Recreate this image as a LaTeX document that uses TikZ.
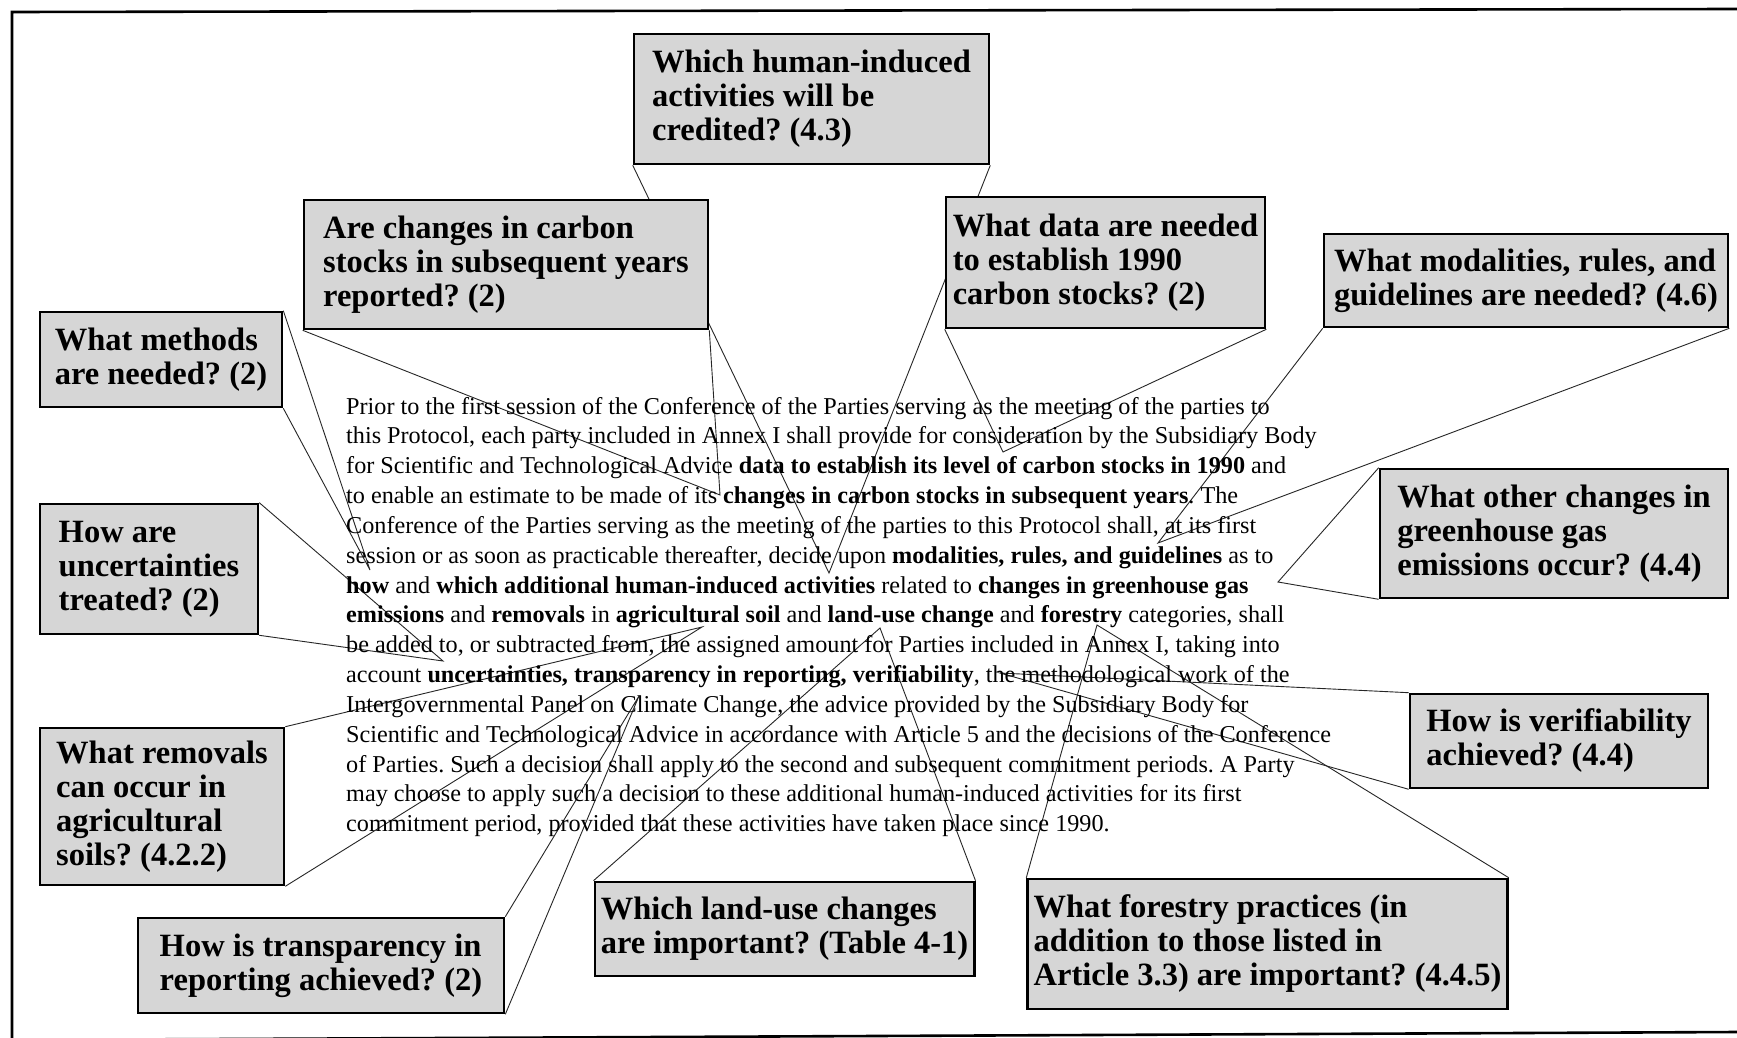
\documentclass[tikz,border=0pt]{standalone}
\usepackage{fontspec}
\setmainfont{Liberation Serif}
\usetikzlibrary{backgrounds}
\pgfdeclarelayer{bottom}
\pgfsetlayers{bottom,background,main}
\frenchspacing
\begin{document}
\begin{tikzpicture}[x=1pt,y=-1pt,
  qbox/.style={draw=black, line width=2.6pt, fill=black!16, align=left,
    anchor=center, inner xsep=6pt, inner ysep=0pt,
    font=\fontsize{32.5}{34}\selectfont\bfseries},
  para/.style={anchor=base west, inner sep=0pt, font=\fontsize{24.2}{28}\selectfont},
  lead/.style={draw=black!85, line width=0.9pt, line join=miter},
  frame/.style={draw=black, line width=2.6pt},
]
\useasboundingbox (0,0) rectangle (1737,1038);
\begin{pgfonlayer}{bottom}
\fill[white] (0,0) rectangle (1737,1038);
\end{pgfonlayer}

% outer frame (open on the right)
\coordinate (f1) at (1737,9);
\coordinate (f2) at (12,12);
\coordinate (f3) at (12,1040);
\coordinate (f4) at (1737,1032);
\draw[frame] (f1) -- (f2) -- (f3);
\draw[frame] (f3) -- (f4);

% the quoted paragraph, one node per printed line
\node[para] (t1)  at (346,414.0) {Prior to the first session of the Conference of the Parties serving as the meeting of the parties to};
\node[para] (t2)  at (346,443.8) {this Protocol, each party included in Annex I shall provide for consideration by the Subsidiary Body};
\node[para] (t3)  at (346,473.7) {for Scientific and Technological Advice \textbf{data to establish its level of carbon stocks in 1990} and};
\node[para] (t4)  at (346,503.5) {to enable an estimate to be made of its \textbf{changes in carbon stocks in subsequent years}. The};
\node[para] (t5)  at (346,533.3) {Conference of the Parties serving as the meeting of the parties to this Protocol shall, at its first};
\node[para] (t6)  at (346,563.2) {session or as soon as practicable thereafter, decide upon \textbf{modalities, rules, and guidelines} as to};
\node[para] (t7)  at (346,593.0) {\textbf{how} and \textbf{which additional human-induced activities} related to \textbf{changes in greenhouse gas}};
\node[para] (t8)  at (346,622.8) {\textbf{emissions} and \textbf{removals} in \textbf{agricultural soil} and \textbf{land-use change} and \textbf{forestry} categories, shall};
\node[para] (t9)  at (346,652.6) {be added to, or subtracted from, the assigned amount for Parties included in Annex I, taking into};
\node[para] (t10) at (346,682.5) {account \textbf{uncertainties, transparency in reporting, verifiability}, the methodological work of the};
\node[para] (t11) at (346,712.3) {Intergovernmental Panel on Climate Change, the advice provided by the Subsidiary Body for};
\node[para] (t12) at (346,742.1) {Scientific and Technological Advice in accordance with Article 5 and the decisions of the Conference};
\node[para] (t13) at (346,772.0) {of Parties. Such a decision shall apply to the second and subsequent commitment periods. A Party};
\node[para] (t14) at (346,801.8) {may choose to apply such a decision to these additional human-induced activities for its first};
\node[para] (t15) at (346,831.6) {commitment period, provided that these activities have taken place since 1990.};

% points in the paragraph that the callouts point to
\coordinate (p1)  at (829,573);
\coordinate (p2)  at (720,495);
\coordinate (p3)  at (1003,452);
\coordinate (p4)  at (1158,543);
\coordinate (p5)  at (370,570);
\coordinate (p6)  at (443,661);
\coordinate (p7)  at (1278,582);
\coordinate (p8)  at (702,627);
\coordinate (p9)  at (1000,673);
\coordinate (p10) at (639,696);
\coordinate (p11) at (880,628);
\coordinate (p12) at (1097,625);

% question boxes
\node[qbox, minimum width=355pt, minimum height=130pt] (b1)  at (811.5,99)   {Which human-induced\\activities will be\\credited? (4.3)};
\node[qbox, minimum width=404pt, minimum height=129pt] (b2)  at (506,264.5)  {Are changes in carbon\\stocks in subsequent years\\reported? (2)};
\node[qbox, minimum width=319pt, minimum height=131pt] (b3)  at (1105.5,262.5) {What data are needed\\to establish 1990\\carbon stocks? (2)};
\node[qbox, minimum width=404pt, minimum height=93pt]  (b4)  at (1526,280.5) {What modalities, rules, and\\guidelines are needed? (4.6)};
\node[qbox, minimum width=242pt, minimum height=95pt]  (b5)  at (161,359.5)  {What methods\\are needed? (2)};
\node[qbox, minimum width=218pt, minimum height=130pt] (b6)  at (149,569)    {How are\\uncertainties\\treated? (2)};
\node[qbox, minimum width=348pt, minimum height=129pt] (b7)  at (1554,533.5) {What other changes in\\greenhouse gas\\emissions occur? (4.4)};
\node[qbox, minimum width=244pt, minimum height=157pt] (b8)  at (162,806.5)  {What removals\\can occur in\\agricultural\\soils? (4.2.2)};
\node[qbox, minimum width=298pt, minimum height=94pt]  (b9)  at (1559,741)   {How is verifiability\\achieved? (4.4)};
\node[qbox, minimum width=366pt, minimum height=95pt]  (b10) at (321,965.5)  {How is transparency in\\reporting achieved? (2)};
\node[qbox, minimum width=377pt, minimum height=94pt]  (b11) at (784.5,929)  {Which land-use changes\\are important? (Table 4-1)};
\node[qbox, minimum width=479pt, minimum height=130pt] (b12) at (1267.5,944) {What forestry practices (in\\addition to those listed in\\Article 3.3) are important? (4.4.5)};

% callout wedges, drawn behind the boxes
\begin{pgfonlayer}{background}
\draw[lead] (b1.south west)  -- (p1)  -- (b1.south east);
\draw[lead] (b2.south west)  -- (p2)  -- (b2.south east);
\draw[lead] (b3.south west)  -- (p3)  -- (b3.south east);
\draw[lead] (b4.south west)  -- (p4)  -- (b4.south east);
\draw[lead] (b5.north east)  -- (p5)  -- (b5.south east);
\draw[lead] (b6.north east)  -- (p6)  -- (b6.south east);
\draw[lead] (b7.north west)  -- (p7)  -- (b7.south west);
\draw[lead] (b8.north east)  -- (p8)  -- (b8.south east);
\draw[lead] (b9.north west)  -- (p9)  -- (b9.south west);
\draw[lead] (b10.north east) -- (p10) -- (b10.south east);
\draw[lead] (b11.north west) -- (p11) -- (b11.north east);
\draw[lead] (b12.north west) -- (p12) -- (b12.north east);
\end{pgfonlayer}
\end{tikzpicture}
\end{document}
